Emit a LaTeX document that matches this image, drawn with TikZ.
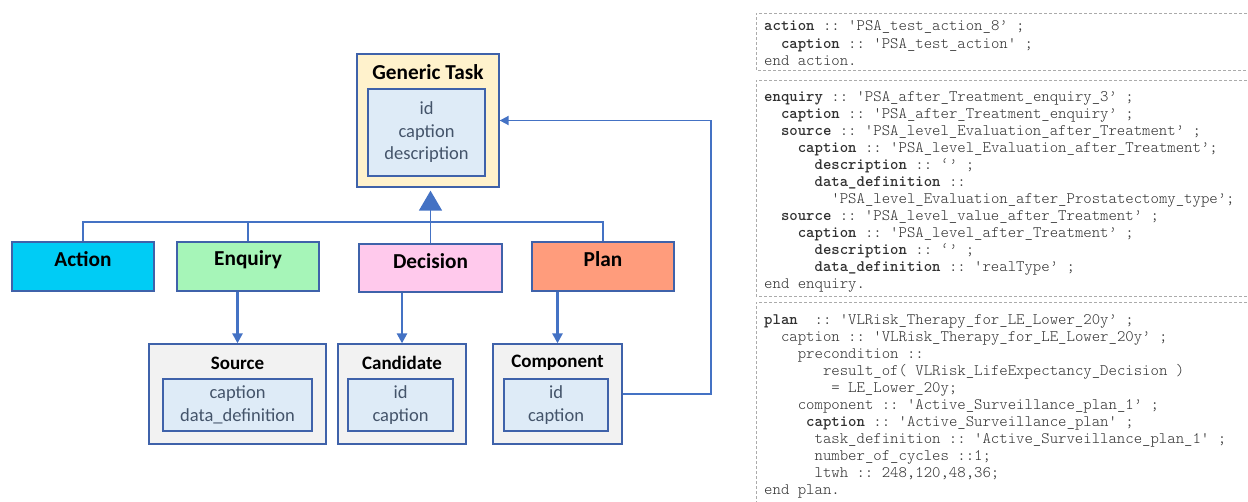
\documentclass[tikz,border=0pt]{standalone}
\usepackage{fontspec}
\setmainfont{Carlito}
\setmonofont{Latin Modern Mono Light}
\usetikzlibrary{arrows.meta}

\definecolor{boxline}{HTML}{3F62AA}
\definecolor{conn}{HTML}{4472C4}
\definecolor{genfill}{HTML}{FFF2CC}
\definecolor{fieldfill}{HTML}{DEEBF7}
\definecolor{fieldtext}{HTML}{44546A}
\definecolor{partfill}{HTML}{F2F2F2}
\definecolor{actfill}{HTML}{00CCF5}
\definecolor{enqfill}{HTML}{A6F5B8}
\definecolor{decfill}{HTML}{FFC9EC}
\definecolor{planfill}{HTML}{FF9C7C}
\definecolor{codetext}{HTML}{303030}
\definecolor{framegray}{HTML}{ABABAB}

% indentation by a number of monospaced character cells
\newcommand\ind[1]{\hspace*{#1\fontcharwd\font`x}}

\begin{document}
\begin{tikzpicture}[x=1pt,y=-1pt,
  box/.style={draw=boxline, line width=1.3pt, inner sep=0pt},
  title/.style={font=\fontsize{19}{22}\selectfont\bfseries, text=black, inner sep=0pt},
  bigtitle/.style={title, font=\fontsize{21.3}{24}\selectfont\bfseries},
  field/.style={box, fill=fieldfill, align=center, text=fieldtext,
    font=\fontsize{18.5}{22.5}\selectfont},
  code/.style={anchor=base west, inner sep=0pt, text=codetext,
    font=\ttfamily\fontsize{16}{17}\selectfont},
  frame/.style={draw=framegray, line width=0.8pt, dash pattern=on 3pt off 2pt},
  bus/.style={draw=conn, line width=1.6pt},
  flow/.style={draw=conn, line width=2.8pt, -{Triangle[width=10pt,length=10pt]}},
  back/.style={draw=conn, line width=1.8pt, -{Triangle[width=9pt,length=9pt]}},
  inherit/.style={draw=conn, line width=1.6pt, shorten >=3pt,
    -{Triangle[width=23pt,length=20pt,fill=conn]}},
]
\useasboundingbox (0,0) rectangle (1248,501);

% ---------- generic task ----------
\node[box, fill=genfill, minimum width=142pt, minimum height=133pt] (gen) at (428,120.5) {};
\node[bigtitle] (gent) at (428,72) {Generic Task};
\node[field, minimum width=117pt, minimum height=87pt] (genf) at (426.5,132.5) {id\\caption\\description};

% ---------- task kinds ----------
\node[box, fill=actfill,  minimum width=142pt, minimum height=49pt] (act) at (83,266.5) {};
\node[box, fill=enqfill,  minimum width=142pt, minimum height=49pt] (enq) at (248,266.5) {};
\node[box, fill=decfill,  minimum width=143pt, minimum height=48pt] (dec) at (430.5,268) {};
\node[box, fill=planfill, minimum width=142pt, minimum height=49pt] (pl)  at (603,266.5) {};
\node[bigtitle] (actt) at (83,259) {Action};
\node[bigtitle] (enqt) at (248,260) {Enquiry};
\node[bigtitle] (dect) at (430.5,261) {Decision};
\node[bigtitle] (plt)  at (603,259) {Plan};

% ---------- parts ----------
\node[box, fill=partfill, minimum width=177pt, minimum height=100pt] (src)  at (237.5,394) {};
\node[box, fill=partfill, minimum width=128pt, minimum height=100pt] (cand) at (402,394) {};
\node[box, fill=partfill, minimum width=129pt, minimum height=100pt] (comp) at (557.5,394) {};
\node[title] (srct)  at (237.5,363) {Source};
\node[title] (candt) at (402,363) {Candidate};
\node[title] (compt) at (557.5,363) {Component};
\node[field, minimum width=149pt, minimum height=52pt] (srcf)  at (237.5,405) {caption\\data\_definition};
\node[field, minimum width=105pt, minimum height=52pt] (candf) at (400.5,405) {id\\caption};
\node[field, minimum width=104pt, minimum height=52pt] (compf) at (556,405) {id\\caption};

% ---------- connectors ----------
\coordinate (busy) at (0,222);
\coordinate (retx) at (711,0);
\draw[bus] (act.north) |- (busy -| pl.north) -- (pl.north);
\draw[bus] (enq.north) -- (enq.north |- busy);
\draw[inherit] (dec.north) -- (dec.north |- gen.south);
\draw[flow] (enq.south -| src.north) -- (src.north);
\draw[flow] (dec.south -| cand.north) -- (cand.north);
\draw[flow] (pl.south -| comp.north) -- (comp.north);
\draw[back] (comp.east) -- (comp.east -| retx) -- (gen.east -| retx) -- (gen.east);

% ---------- textual definitions ----------
\draw[frame] (1252,13) -- (756,13) -- (756,70) -- (1252,70);
\draw[frame] (1252,80) -- (756,80) -- (756,296) -- (1252,296);
\draw[frame] (1252,302) -- (756,302) -- (756,510);

\foreach \t [count=\i] in {
  {\textbf{action} :: 'PSA\_test\_action\_8’ ;},
  {\ind{2}\textbf{caption} :: 'PSA\_test\_action' ;},
  {end action.}}
  \node[code] (ca\i) at (764,{30.5+17.5*(\i-1)}) {\t};

\foreach \t [count=\i] in {
  {\textbf{enquiry} :: 'PSA\_after\_Treatment\_enquiry\_3’ ;},
  {\ind{2}\textbf{caption} :: 'PSA\_after\_Treatment\_enquiry’ ;},
  {\ind{2}\textbf{source} :: 'PSA\_level\_Evaluation\_after\_Treatment’ ;},
  {\ind{4}\textbf{caption} :: 'PSA\_level\_Evaluation\_after\_Treatment’;},
  {\ind{6}\textbf{description} :: ‘’ ;},
  {\ind{6}\textbf{data\_definition} ::},
  {\ind{8}'PSA\_level\_Evaluation\_after\_Prostatectomy\_type’;},
  {\ind{2}\textbf{source} :: 'PSA\_level\_value\_after\_Treatment’ ;},
  {\ind{4}\textbf{caption} :: 'PSA\_level\_after\_Treatment’ ;},
  {\ind{6}\textbf{description} :: ‘’ ;},
  {\ind{6}\textbf{data\_definition} :: 'realType’ ;},
  {end enquiry.}}
  \node[code] (ce\i) at (764,{101.5+17*(\i-1)}) {\t};

\foreach \t [count=\i] in {
  {\textbf{plan}\ \ :: 'VLRisk\_Therapy\_for\_LE\_Lower\_20y’ ;},
  {\ind{2}caption :: 'VLRisk\_Therapy\_for\_LE\_Lower\_20y’ ;},
  {\ind{4}precondition ::},
  {\ind{7}result\_of( VLRisk\_LifeExpectancy\_Decision )},
  {\ind{8}= LE\_Lower\_20y;},
  {\ind{4}component :: 'Active\_Surveillance\_plan\_1’ ;},
  {\ind{5}\textbf{caption} :: 'Active\_Surveillance\_plan' ;},
  {\ind{6}task\_definition :: 'Active\_Surveillance\_plan\_1' ;},
  {\ind{6}number\_of\_cycles ::1;},
  {\ind{6}ltwh :: 248,120,48,36;},
  {end plan.}}
  \node[code] (cp\i) at (764,{324.5+17*(\i-1)}) {\t};
\end{tikzpicture}
\end{document}
